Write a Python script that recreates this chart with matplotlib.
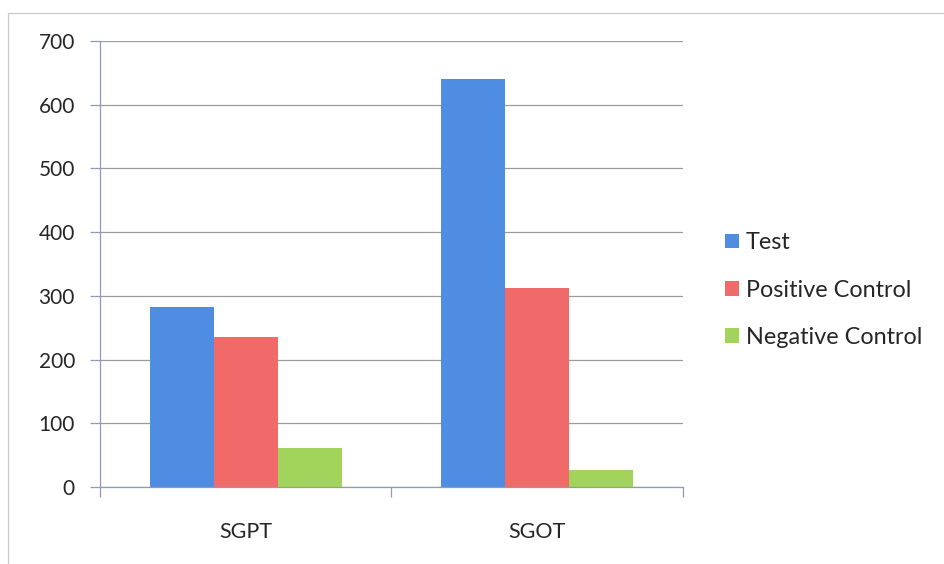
import matplotlib.pyplot as plt
from matplotlib.patches import Rectangle
import numpy as np

categories = ['SGPT', 'SGOT']
series_names = ['Test', 'Positive Control', 'Negative Control']
test_vals = [282, 640]
positive_vals = [236, 313]
negative_vals = [62, 27]
y_ticks = [0, 100, 200, 300, 400, 500, 600, 700]

colors = ['#4f8de3', '#f06a6a', '#a2d35a']
axis_color = '#8f9bb3'
grid_color = '#9c9c9c'
text_color = '#262626'

plt.rcParams['font.family'] = ['Lato', 'DejaVu Sans']

fig = plt.figure(figsize=(9.44, 5.64), dpi=100)
ax = fig.add_axes([0.1059, 0.1365, 0.6176, 0.7908])

# outer chart border
fig.patches.append(Rectangle((0.008, -0.05), 1.05, 1.027, transform=fig.transFigure,
                             fill=False, edgecolor='#c8c8c8', linewidth=0.9))

x = np.arange(len(categories))
width = 0.22
all_vals = [test_vals, positive_vals, negative_vals]
for i, vals in enumerate(all_vals):
    ax.bar(x + (i - 1) * width, vals, width, color=colors[i], label=series_names[i], zorder=3)

ax.set_xlim(-0.5, 1.5)
ax.set_ylim(0, 700)
ax.set_yticks(y_ticks)
ax.set_yticklabels([str(v) for v in y_ticks], fontsize=15, color=text_color)
ax.yaxis.grid(True, color=grid_color, linewidth=0.9, zorder=0)

ax.set_xticks(x)
ax.set_xticklabels(categories, fontsize=15.5, color=text_color)
ax.tick_params(axis='x', length=0, pad=25)
ax.set_xticks([-0.5, 0.5, 1.5], minor=True)
ax.tick_params(axis='x', which='minor', length=7, color=axis_color, width=0.9, direction='out')
ax.tick_params(axis='y', length=7, color=axis_color, width=0.9, direction='out', pad=11)

for side in ['top', 'right']:
    ax.spines[side].set_visible(False)
for side in ['left', 'bottom']:
    ax.spines[side].set_color(axis_color)
    ax.spines[side].set_linewidth(0.9)
ax.spines['left'].set_zorder(4)
ax.spines['bottom'].set_zorder(4)

leg = ax.legend(loc='center left', bbox_to_anchor=(1.036, 0.4417), bbox_transform=ax.transAxes,
                frameon=False, fontsize=16.8, handlelength=0.58, handleheight=0.58,
                handletextpad=0.3, labelspacing=1.12, labelcolor=text_color)

fig.savefig('out.png', dpi=100)
